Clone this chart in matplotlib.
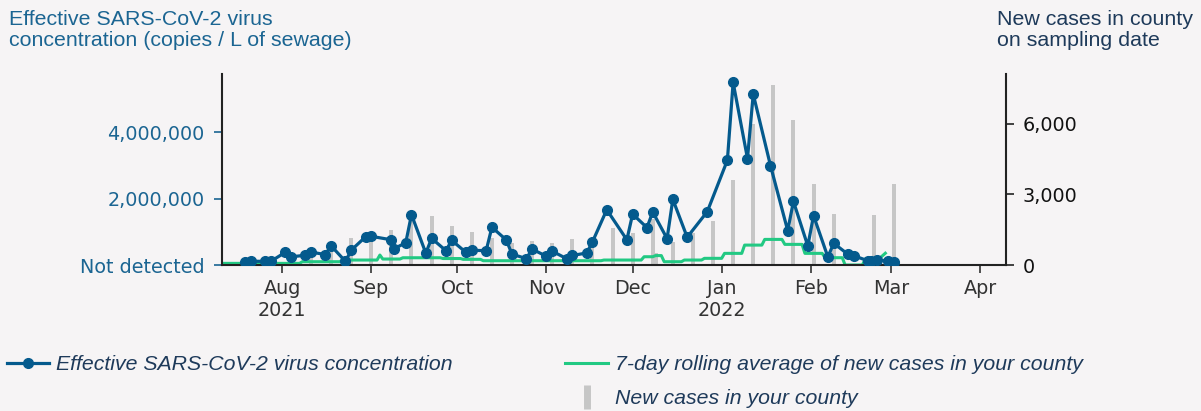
import numpy as np
import pandas as pd
import matplotlib
matplotlib.use("Agg")
import matplotlib.pyplot as plt
import matplotlib.dates as mdates
from matplotlib.lines import Line2D
from matplotlib.ticker import FuncFormatter

# sewage samples (copies / L)
sample_dates = ["2021-07-19", "2021-07-21", "2021-07-26", "2021-07-28", "2021-08-02", "2021-08-04",
                "2021-08-09", "2021-08-11", "2021-08-16", "2021-08-18", "2021-08-23", "2021-08-25",
                "2021-08-30", "2021-09-01", "2021-09-08", "2021-09-09", "2021-09-13", "2021-09-15",
                "2021-09-20", "2021-09-22", "2021-09-27", "2021-09-29", "2021-10-04", "2021-10-06",
                "2021-10-11", "2021-10-13", "2021-10-18", "2021-10-20", "2021-10-25", "2021-10-27",
                "2021-11-01", "2021-11-03", "2021-11-08", "2021-11-10", "2021-11-15", "2021-11-17",
                "2021-11-22", "2021-11-29", "2021-12-01", "2021-12-06", "2021-12-08", "2021-12-13",
                "2021-12-15", "2021-12-20", "2021-12-27", "2022-01-03", "2022-01-05", "2022-01-10",
                "2022-01-12", "2022-01-18", "2022-01-24", "2022-01-26", "2022-01-31", "2022-02-02",
                "2022-02-07", "2022-02-09", "2022-02-14", "2022-02-16", "2022-02-21", "2022-02-22",
                "2022-02-24", "2022-02-28", "2022-03-02"]
concentration = [80e3, 115e3, 110e3, 110e3, 380e3, 245e3,
                 295e3, 390e3, 315e3, 580e3, 110e3, 445e3,
                 850e3, 865e3, 760e3, 495e3, 670e3, 1520e3,
                 355e3, 805e3, 432e3, 745e3, 378e3, 445e3,
                 432e3, 1140e3, 756e3, 328e3, 192e3, 480e3,
                 262e3, 417e3, 192e3, 287e3, 363e3, 695e3,
                 1667e3, 760e3, 1535e3, 1128e3, 1600e3, 795e3,
                 1979e3, 838e3, 1610e3, 3161e3, 5506e3, 3212e3,
                 5152e3, 3000e3, 1039e3, 1918e3, 576e3, 1490e3,
                 240e3, 656e3, 323e3, 281e3, 125e3, 135e3,
                 150e3, 125e3, 100e3]

# new cases on sampling date
case_dates = ["2021-08-11", "2021-08-18", "2021-08-25", "2021-09-01", "2021-09-08", "2021-09-15",
              "2021-09-22", "2021-09-29", "2021-10-06", "2021-10-13", "2021-10-20", "2021-10-27",
              "2021-11-03", "2021-11-10", "2021-11-17", "2021-11-24", "2021-12-01", "2021-12-08",
              "2021-12-09", "2021-12-15", "2021-12-22", "2021-12-29", "2022-01-05", "2022-01-12",
              "2022-01-19", "2022-01-26", "2022-02-02", "2022-02-09", "2022-02-23", "2022-03-02"]
new_cases = [705, 563, 1128, 1340, 1479, 2000,
             2075, 1648, 1407, 1128, 917, 1014,
             917, 1098, 900, 1560, 1350, 1972,
             520, 985, 1340, 1859, 3591, 6000,
             7640, 6155, 3451, 2155, 2113, 3451]

# 7-day rolling average
avg_dates = ["2021-07-04", "2021-08-07", "2021-08-08", "2021-08-21", "2021-08-22", "2021-09-03",
             "2021-09-04", "2021-09-05", "2021-09-11", "2021-09-12", "2021-09-25", "2021-09-26",
             "2021-10-02", "2021-10-03", "2021-10-09", "2021-10-10", "2021-11-20", "2021-11-21",
             "2021-12-04", "2021-12-05", "2021-12-08", "2021-12-09", "2021-12-11", "2021-12-12",
             "2021-12-18", "2021-12-19", "2021-12-25", "2021-12-26", "2022-01-01", "2022-01-02",
             "2022-01-08", "2022-01-09", "2022-01-15", "2022-01-16", "2022-01-22", "2022-01-23",
             "2022-01-29", "2022-01-30", "2022-02-05", "2022-02-06", "2022-02-12", "2022-02-13",
             "2022-02-19", "2022-02-20", "2022-02-25", "2022-02-27"]
avg_cases = [70, 70, 140, 140, 211, 211,
             423, 254, 254, 308, 308, 275,
             275, 241, 241, 182, 182, 211,
             211, 351, 351, 400, 400, 140,
             140, 211, 211, 283, 283, 494,
             494, 845, 845, 1086, 1086, 875,
             875, 494, 494, 310, 310, 0,
             0, 254, 283, 500]

month_ticks = pd.date_range("2021-08-01", "2022-04-01", freq="MS")
month_labels = ["Aug\n2021", "Sep", "Oct", "Nov", "Dec", "Jan\n2022", "Feb", "Mar", "Apr"]

bg = "#f6f4f5"
blue = "#045a8d"
blue_txt = "#1b6592"
navy = "#1e3a5a"
green = "#22c983"
grey = "#c6c6c6"

plt.rcParams["font.family"] = "DejaVu Sans"

fig = plt.figure(figsize=(12.01, 4.11), dpi=100, facecolor=bg)
ax1 = fig.add_axes([0.1848, 0.3552, 0.6528, 0.4647])
ax2 = ax1.twinx()
ax1.set_zorder(ax2.get_zorder() + 1)
ax1.patch.set_visible(False)
ax2.patch.set_visible(False)

ax2.bar(pd.to_datetime(case_dates), new_cases, width=1.4, color=grey, zorder=1)
ax2.plot(pd.to_datetime(avg_dates), avg_cases, color=green, lw=2.2, zorder=2)
ax1.plot(pd.to_datetime(sample_dates), concentration, color=blue, lw=2.3,
         marker="o", markersize=7, zorder=3)

ax1.set_xlim(pd.Timestamp("2021-07-11"), pd.Timestamp("2022-04-10"))
ax1.set_ylim(0, 5.76e6)
ax2.set_ylim(0, 8100)

ax1.set_xticks(month_ticks)
ax1.set_xticklabels(month_labels)
ax1.set_yticks([0, 2e6, 4e6])
ax1.set_yticklabels(["Not detected", "2,000,000", "4,000,000"])
ax2.set_yticks([0, 3000, 6000])
ax2.yaxis.set_major_formatter(FuncFormatter(lambda v, p: f"{int(v):,}"))

for a in (ax1, ax2):
    a.spines["top"].set_visible(False)
    for s in a.spines.values():
        s.set_color("#222222")
        s.set_linewidth(1.5)
ax1.spines["right"].set_visible(False)
ax2.spines["left"].set_visible(False)
ax2.spines["bottom"].set_visible(False)

ax1.tick_params(axis="x", length=6, width=1.2, color="#333333", labelcolor="#333333",
                labelsize=13.8, pad=4)
ax1.tick_params(axis="y", length=6, width=1.2, color=blue_txt, labelcolor=blue_txt,
                labelsize=13.8, pad=6.5)
ax2.tick_params(axis="y", length=6, width=1.2, color="#222222", labelcolor="#111111",
                labelsize=13.8, pad=6)

fig.text(0.0078, 0.975, "Effective SARS-CoV-2 virus\nconcentration (copies / L of sewage)",
         ha="left", va="top", fontsize=15.4, color=blue_txt, family="Liberation Sans",
         linespacing=1.12)
fig.text(0.8302, 0.975, "New cases in county\non sampling date",
         ha="left", va="top", fontsize=15.4, color=navy, family="Liberation Sans",
         linespacing=1.12)

handles = [
    Line2D([], [], color=blue, lw=2.3, marker="o", markersize=7),
    Line2D([], [], linestyle="None"),
    Line2D([], [], color=green, lw=2.2),
    Line2D([], [], color=grey, linestyle="None", marker="|", markersize=17, markeredgewidth=5),
]
labels = ["Effective SARS-CoV-2 virus concentration", "",
          "7-day rolling average of new cases in your county", "New cases in your county"]
leg = fig.legend(handles, labels, loc="upper left", bbox_to_anchor=(0.0055, 0.136),
                 ncol=2, frameon=False, handlelength=2.0, handletextpad=0.33,
                 columnspacing=5.3, labelspacing=0.7, borderpad=0, borderaxespad=0,
                 numpoints=1, prop={"family": "Liberation Sans", "style": "italic", "size": 15.3})
for t in leg.get_texts():
    t.set_color(navy)

fig.savefig("out.png", dpi=100, facecolor=bg)
